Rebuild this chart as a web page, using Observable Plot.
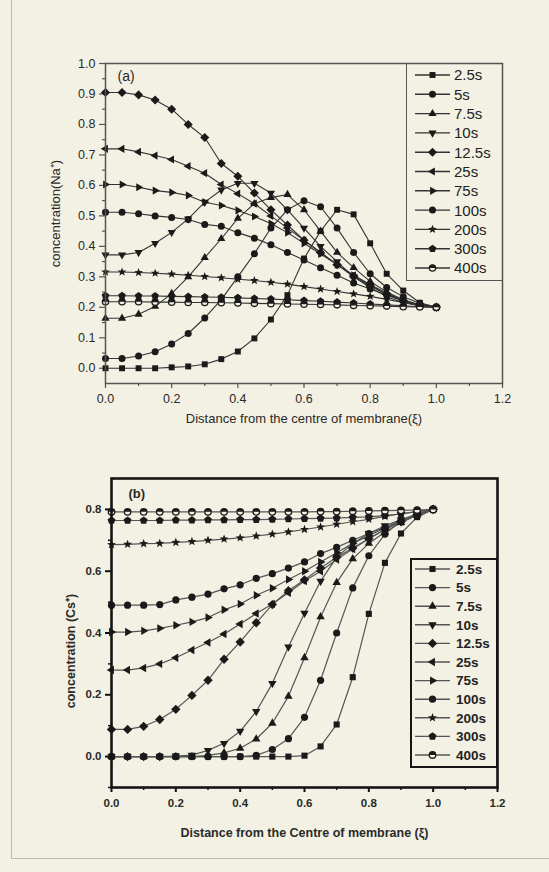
<!DOCTYPE html>
<html><head><meta charset="utf-8">
<script src="https://cdn.jsdelivr.net/npm/d3@7"></script>
<script src="https://cdn.jsdelivr.net/npm/@observablehq/plot@0.6"></script>
<style>
html,body{margin:0;padding:0;background:#f3f1e3;}
#page{position:relative;width:549px;height:872px;background:#f3f1e3;overflow:hidden;font-family:"Liberation Sans",Arial,sans-serif;}
#border{position:absolute;left:11px;top:-3px;width:560px;height:862px;border:1.5px solid #bdbdb5;box-sizing:border-box;}
.panel{position:absolute;left:0;}
.legend{position:absolute;box-sizing:border-box;}
#plotA g[aria-label="x-axis tick label"], #plotA g[aria-label="y-axis tick label"]{font-size:12.5px !important;}
#plotB g[aria-label="x-axis tick label"], #plotB g[aria-label="y-axis tick label"]{font-size:11.5px !important;font-weight:bold;}
</style>
</head><body>
<div id="page"><div id="border"></div></div>
<script>
// ---------- data ----------
const xi = [0,0.05,0.1,0.15,0.2,0.25,0.3,0.35,0.4,0.45,0.5,0.55,0.6,0.65,0.7,0.75,0.8,0.85,0.9,0.95,1.0];
const seriesLabels = ["2.5s","5s","7.5s","10s","12.5s","25s","75s","100s","200s","300s","400s"];

// panel (a): concentration(Na+)
const na_2_5 = [0.000,0.000,0.000,0.000,0.003,0.006,0.013,0.030,0.055,0.098,0.160,0.240,0.360,0.450,0.520,0.505,0.410,0.310,0.255,0.215,0.200];
const na_5   = [0.032,0.032,0.040,0.054,0.080,0.114,0.165,0.225,0.300,0.376,0.460,0.520,0.550,0.530,0.460,0.380,0.310,0.265,0.235,0.213,0.200];
const na_7_5 = [0.164,0.164,0.177,0.203,0.245,0.300,0.363,0.425,0.492,0.540,0.560,0.570,0.520,0.450,0.380,0.330,0.285,0.250,0.225,0.208,0.200];
const na_10  = [0.372,0.372,0.380,0.410,0.446,0.490,0.545,0.585,0.607,0.607,0.575,0.520,0.460,0.400,0.350,0.300,0.265,0.235,0.215,0.205,0.200];
const na_12_5= [0.905,0.905,0.897,0.880,0.850,0.800,0.757,0.672,0.630,0.575,0.520,0.470,0.420,0.380,0.340,0.300,0.270,0.242,0.220,0.206,0.200];
const na_25  = [0.720,0.720,0.710,0.698,0.685,0.663,0.640,0.603,0.573,0.540,0.500,0.460,0.420,0.380,0.340,0.305,0.272,0.243,0.222,0.207,0.200];
const na_75  = [0.603,0.603,0.594,0.583,0.577,0.567,0.545,0.534,0.518,0.498,0.475,0.445,0.410,0.375,0.340,0.305,0.275,0.246,0.223,0.207,0.200];
const na_100 = [0.512,0.512,0.507,0.500,0.495,0.488,0.472,0.466,0.445,0.427,0.405,0.380,0.355,0.330,0.305,0.280,0.260,0.240,0.222,0.207,0.200];
const na_200 = [0.316,0.316,0.314,0.312,0.309,0.305,0.301,0.297,0.292,0.288,0.282,0.276,0.268,0.260,0.252,0.244,0.236,0.226,0.216,0.207,0.200];
const na_300 = [0.238,0.238,0.237,0.237,0.236,0.235,0.234,0.233,0.231,0.229,0.227,0.225,0.222,0.220,0.217,0.214,0.211,0.208,0.205,0.202,0.200];
const na_400 = [0.218,0.218,0.218,0.217,0.217,0.216,0.216,0.215,0.214,0.213,0.212,0.211,0.210,0.209,0.208,0.206,0.205,0.204,0.202,0.201,0.200];

// panel (b): concentration(Cs+)
const cs_2_5 = [0,0,0,0,0,0,0,0,0,0,0,0,0.003,0.033,0.104,0.257,0.462,0.627,0.722,0.775,0.800];
const cs_5   = [0,0,0,0,0,0,0,0,0,0.004,0.023,0.058,0.127,0.247,0.400,0.546,0.650,0.720,0.762,0.787,0.800];
const cs_7_5 = [0,0,0,0,0,0,0.004,0.012,0.027,0.057,0.108,0.195,0.320,0.452,0.563,0.640,0.690,0.727,0.757,0.781,0.800];
const cs_10  = [0,0,0,0,0.002,0.005,0.020,0.043,0.082,0.146,0.237,0.355,0.464,0.568,0.645,0.690,0.722,0.747,0.767,0.784,0.800];
const cs_12_5= [0.088,0.088,0.098,0.120,0.153,0.198,0.247,0.315,0.371,0.433,0.492,0.537,0.572,0.610,0.645,0.675,0.705,0.735,0.760,0.782,0.800];
const cs_25  = [0.280,0.280,0.287,0.300,0.320,0.345,0.369,0.397,0.429,0.463,0.494,0.530,0.568,0.600,0.638,0.672,0.705,0.735,0.760,0.782,0.800];
const cs_75  = [0.403,0.403,0.407,0.415,0.425,0.436,0.450,0.475,0.494,0.522,0.545,0.573,0.600,0.630,0.660,0.690,0.715,0.740,0.762,0.782,0.800];
const cs_100 = [0.490,0.490,0.490,0.492,0.507,0.516,0.526,0.543,0.556,0.577,0.592,0.610,0.630,0.657,0.677,0.700,0.722,0.742,0.764,0.780,0.800];
const cs_200 = [0.686,0.687,0.689,0.690,0.693,0.696,0.700,0.704,0.708,0.714,0.720,0.727,0.735,0.743,0.752,0.760,0.768,0.777,0.786,0.793,0.800];
const cs_300 = [0.764,0.764,0.764,0.764,0.765,0.765,0.766,0.766,0.767,0.767,0.768,0.769,0.770,0.771,0.772,0.774,0.776,0.780,0.786,0.793,0.800];
const cs_400 = [0.792,0.792,0.792,0.792,0.792,0.792,0.792,0.792,0.792,0.792,0.792,0.792,0.792,0.793,0.793,0.794,0.795,0.796,0.797,0.798,0.800];

// ticks
const xTicks = [0,0.2,0.4,0.6,0.8,1.0,1.2];
const xMinorTicks = [0.1,0.3,0.5,0.7,0.9,1.1];
const naYTicks = [0,0.1,0.2,0.3,0.4,0.5,0.6,0.7,0.8,0.9,1.0];
const naYMinorTicks = [0.05,0.15,0.25,0.35,0.45,0.55,0.65,0.75,0.85,0.95];
const csYTicks = [0,0.2,0.4,0.6,0.8];
const csYMinorTicks = [-0.1,0.1,0.3,0.5,0.7];

// ---------- symbols ----------
function polySymbol(n, rot, scale) {
  return {draw(ctx, size) {
    const R = Math.sqrt(size / Math.PI) * scale;
    for (let k = 0; k < n; k++) {
      const a = rot + k * 2 * Math.PI / n;
      const px = R * Math.cos(a), py = R * Math.sin(a);
      if (k) ctx.lineTo(px, py); else ctx.moveTo(px, py);
    }
    ctx.closePath();
  }};
}
const symSquare = polySymbol(4, Math.PI/4, 1.2);
const symTriUp = polySymbol(3, -Math.PI/2, 1.35);
const symTriDown = polySymbol(3, Math.PI/2, 1.35);
const symTriLeft = polySymbol(3, Math.PI, 1.35);
const symTriRight = polySymbol(3, 0, 1.35);
const symDiamond = polySymbol(4, -Math.PI/2, 1.3);
const symPentagon = polySymbol(5, -Math.PI/2, 1.15);
const symCircle = d3.symbolCircle;
const symStar = {draw(ctx, size) {
  const R = Math.sqrt(size / Math.PI) * 1.3, r = R * 0.42;
  for (let k = 0; k < 10; k++) {
    const a = -Math.PI/2 + k * Math.PI / 5, rr = k % 2 ? r : R;
    if (k) ctx.lineTo(rr*Math.cos(a), rr*Math.sin(a)); else ctx.moveTo(rr*Math.cos(a), rr*Math.sin(a));
  }
  ctx.closePath();
}};
const symHalfTop = {draw(ctx, size) {
  const r = Math.sqrt(size / Math.PI);
  ctx.moveTo(r, 0); ctx.arc(0, 0, r, 0, Math.PI, true); ctx.closePath();
}};
const markerStyle = [symSquare, symCircle, symTriUp, symTriDown, symDiamond, symTriLeft, symTriRight, symCircle, symStar, symPentagon, "half"];

function rowsOf(seriesValues) {
  const rows = [];
  seriesValues.forEach((vals, i) => vals.forEach((v, j) => rows.push({series: seriesLabels[i], idx: i, xi: xi[j], c: v})));
  return rows;
}
const BG = "#f3f1e3";

function seriesMarks(rows, fillColor, r) {
  const out = [];
  seriesLabels.forEach((lab, i) => {
    const d = rows.filter(p => p.idx === i);
    if (markerStyle[i] === "half") {
      out.push(Plot.dot(d, {x: "xi", y: "c", r: r*0.9, fill: BG, stroke: fillColor, strokeWidth: 1.3}));
      out.push(Plot.dot(d, {x: "xi", y: "c", r: r*0.9, symbol: symHalfTop, fill: fillColor}));
    } else {
      out.push(Plot.dot(d, {x: "xi", y: "c", r, symbol: markerStyle[i], fill: fillColor, stroke: "none"}));
    }
  });
  return out;
}

function legend(parent, {left, top, width, height, firstY, step, lineX0, lineX1, textX, font, fontWeight, border, borderW, lineColor, r}) {
  const div = d3.select(parent).append("div").attr("class", "legend")
    .style("left", left + "px").style("top", top + "px")
    .style("width", width + "px").style("height", height + "px")
    .style("border", `${borderW}px solid ${border}`);
  const svg = div.append("svg").attr("width", width).attr("height", height)
    .style("position", "absolute").style("left", -borderW + "px").style("top", -borderW + "px").style("overflow", "visible");
  seriesLabels.forEach((lab, i) => {
    const y = firstY + i * step;
    const cx = (lineX0 + lineX1) / 2;
    svg.append("line").attr("x1", lineX0).attr("x2", lineX1).attr("y1", y).attr("y2", y)
      .attr("stroke", lineColor).attr("stroke-width", 1.4);
    const area = Math.PI * r * r;
    if (markerStyle[i] === "half") {
      svg.append("circle").attr("cx", cx).attr("cy", y).attr("r", r*0.9).attr("fill", BG).attr("stroke", "#1a1a1a").attr("stroke-width", 1.3);
      svg.append("path").attr("transform", `translate(${cx},${y})`).attr("d", d3.symbol(symHalfTop, area*0.81)()).attr("fill", "#1a1a1a");
    } else {
      svg.append("path").attr("transform", `translate(${cx},${y})`).attr("d", d3.symbol(markerStyle[i], area)()).attr("fill", "#1a1a1a");
    }
    svg.append("text").attr("x", textX).attr("y", y).attr("dy", "0.36em")
      .attr("font-family", '"Liberation Sans", Arial, sans-serif').attr("font-size", font)
      .attr("font-weight", fontWeight).attr("fill", "#222").text(lab);
  });
}

const page = document.getElementById("page");
const fmt = d3.format(".1f");
const FONT = '"Liberation Sans", Arial, sans-serif';

// ---------- panel (a) ----------
const rowsA = rowsOf([na_2_5, na_5, na_7_5, na_10, na_12_5, na_25, na_75, na_100, na_200, na_300, na_400]);
const plotA = Plot.plot({
  width: 549, height: 440,
  marginTop: 63, marginBottom: 57, marginLeft: 105, marginRight: 47,
  x: {domain: [0, 1.2]},
  y: {domain: [-0.05, 1.0]},
  style: {background: "transparent", fontFamily: FONT, fontSize: "13px", color: "#2a2a2a", overflow: "visible"},
  marks: [
    Plot.axisX(xTicks, {tickSize: 5, tickPadding: 6, tickFormat: fmt, label: null, stroke: "#555", strokeWidth: 1.2, fill: "#2a2a2a", fontSize: 12.5}),
    Plot.axisX(xMinorTicks, {tickSize: 3, fill: "none", label: null, stroke: "#555", strokeWidth: 1.2}),
    Plot.axisY(naYTicks, {tickSize: 6, tickPadding: 4, tickFormat: fmt, label: null, stroke: "#555", strokeWidth: 1.2, fill: "#2a2a2a", fontSize: 12.5}),
    Plot.axisY(naYMinorTicks, {tickSize: 3, fill: "none", label: null, stroke: "#555", strokeWidth: 1.2}),
    Plot.line(rowsA, {x: "xi", y: "c", z: "series", stroke: "#333", strokeWidth: 1.1}),
    ...seriesMarks(rowsA, "#1a1a1a", 3.5),
    Plot.frame({stroke: "#555", strokeWidth: 1.5}),
    Plot.text(["(a)"], {frameAnchor: "top-left", dx: 12, dy: 13, textAnchor: "start", lineAnchor: "middle", fontSize: 14, fill: "#2a2a2a"}),
    Plot.text(["Distance from the centre of membrane(\u03BE)"], {frameAnchor: "bottom", dy: 35, textAnchor: "middle", lineAnchor: "middle", fontSize: 13, fill: "#2a2a2a"}),
    Plot.text(["concentration(Na\u207A)"], {frameAnchor: "left", dx: -50, dy: -10, rotate: -90, textAnchor: "middle", lineAnchor: "middle", fontSize: 13, fill: "#2a2a2a"})
  ]
});
plotA.classList.add("panel");
plotA.id = "plotA";
plotA.style.top = "0px";
page.appendChild(plotA);
legend(page, {left: 406, top: 63, width: 97, height: 218, firstY: 12, step: 19.3, lineX0: 9, lineX1: 44, textX: 48,
  font: 15, fontWeight: 400, border: "#555", borderW: 1.5, lineColor: "#333", r: 3.5});

// ---------- panel (b) ----------
const rowsB = rowsOf([cs_2_5, cs_5, cs_7_5, cs_10, cs_12_5, cs_25, cs_75, cs_100, cs_200, cs_300, cs_400]);
const plotB = Plot.plot({
  width: 549, height: 432,
  marginTop: 38, marginBottom: 85, marginLeft: 111, marginRight: 52,
  x: {domain: [0, 1.2]},
  y: {domain: [-0.1, 0.9]},
  style: {background: "transparent", fontFamily: FONT, fontSize: "12px", fontWeight: "bold", color: "#222", overflow: "visible"},
  marks: [
    Plot.axisX(xTicks, {tickSize: 5, tickPadding: 6, tickFormat: fmt, label: null, stroke: "#111", strokeWidth: 2, fill: "#2a2a2a", fontSize: 11.5, fontWeight: "bold"}),
    Plot.axisX(xMinorTicks, {tickSize: 3, fill: "none", label: null, stroke: "#111", strokeWidth: 1.5}),
    Plot.axisY(csYTicks, {tickSize: 6, tickPadding: 4, tickFormat: fmt, label: null, stroke: "#111", strokeWidth: 2, fill: "#2a2a2a", fontSize: 11.5, fontWeight: "bold"}),
    Plot.axisY(csYMinorTicks, {tickSize: 3, fill: "none", label: null, stroke: "#111", strokeWidth: 1.5}),
    Plot.line(rowsB, {x: "xi", y: "c", z: "series", stroke: "#555", strokeWidth: 1.2}),
    ...seriesMarks(rowsB, "#1a1a1a", 3.6),
    Plot.frame({stroke: "#151515", strokeWidth: 2.6}),
    Plot.text(["(b)"], {frameAnchor: "top-left", dx: 17, dy: 15, textAnchor: "start", lineAnchor: "middle", fontSize: 13, fontWeight: "bold", fill: "#2a2a2a"}),
    Plot.text(["Distance from the Centre of membrane (\u03BE)"], {frameAnchor: "bottom", dy: 45, textAnchor: "middle", lineAnchor: "middle", fontSize: 12.5, fontWeight: "bold", fill: "#2a2a2a"}),
    Plot.text(["concentration (Cs\u207A)"], {frameAnchor: "left", dx: -41, dy: 18, rotate: -90, textAnchor: "middle", lineAnchor: "middle", fontSize: 12.5, fontWeight: "bold", fill: "#2a2a2a"})
  ]
});
plotB.classList.add("panel");
plotB.id = "plotB";
plotB.style.top = "440px";
page.appendChild(plotB);
legend(page, {left: 410, top: 558, width: 88, height: 210, firstY: 11, step: 18.6, lineX0: 5, lineX1: 40, textX: 46,
  font: 13.5, fontWeight: 700, border: "#151515", borderW: 2.4, lineColor: "#555", r: 3.6});
</script>
</body></html>
